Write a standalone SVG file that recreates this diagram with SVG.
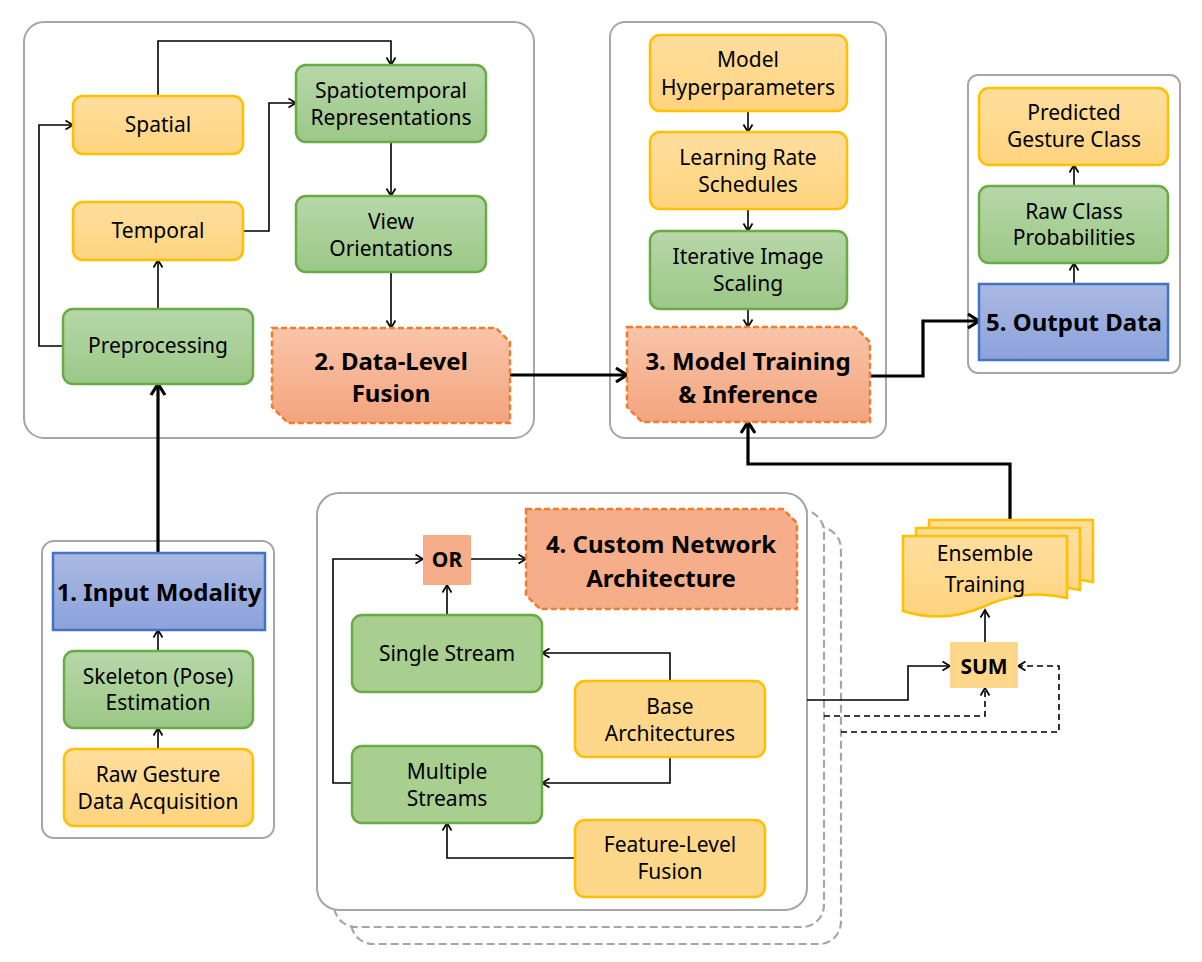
<svg xmlns="http://www.w3.org/2000/svg" width="1202" height="962" viewBox="0 0 1202 962">
<style>
  .cont { fill: #FFFFFF; stroke: #A6A6A6; stroke-width: 2; }
  .contd { fill: #FFFFFF; stroke: #A6A6A6; stroke-width: 2.2; stroke-dasharray: 8 4; }
  .yel { fill: url(#gY); stroke: #FFC000; stroke-width: 2.5; }
  .yelf { fill: #FDD78A; stroke: #FFC000; stroke-width: 2.5; }
  .grn { fill: url(#gG); stroke: #6AAB46; stroke-width: 2.5; }
  .grnf { fill: #A8CF90; stroke: #6AAB46; stroke-width: 2.5; }
  .blu { fill: url(#gB); stroke: #4472C4; stroke-width: 2.5; }
  .org { fill: url(#gO); stroke: #ED7D31; stroke-width: 2.5; stroke-dasharray: 6 3; }
  .orgf { fill: #F5AD8A; stroke: #ED7D31; stroke-width: 2.5; stroke-dasharray: 6 3; }
  .doc { fill: url(#gY); stroke: #FFC000; stroke-width: 2.5; }
  .t { font-family: "Noto Sans", "Liberation Sans", sans-serif; font-size: 21px; fill: #000; text-anchor: middle; }
  .tb { font-family: "Noto Sans", "Liberation Sans", sans-serif; font-size: 24px; font-weight: bold; fill: #000; text-anchor: middle; }
  .ts { font-family: "Noto Sans", "Liberation Sans", sans-serif; font-size: 21px; font-weight: bold; fill: #000; text-anchor: middle; }
  .ln { fill: none; stroke: #000; stroke-width: 1.6; }
  .lnd { fill: none; stroke: #000; stroke-width: 1.6; stroke-dasharray: 6 4; }
  .lnt { fill: none; stroke: #000; stroke-width: 3.2; }
</style>
<defs>
  <linearGradient id="gY" x1="0" y1="0" x2="0" y2="1"><stop offset="0" stop-color="#FFDE9E"/><stop offset="1" stop-color="#FFD47F"/></linearGradient>
  <linearGradient id="gG" x1="0" y1="0" x2="0" y2="1"><stop offset="0" stop-color="#B7D7A9"/><stop offset="1" stop-color="#9CC887"/></linearGradient>
  <linearGradient id="gB" x1="0" y1="0" x2="0" y2="1"><stop offset="0" stop-color="#AAB9E2"/><stop offset="1" stop-color="#8CA2DA"/></linearGradient>
  <linearGradient id="gO" x1="0" y1="0" x2="0" y2="1"><stop offset="0" stop-color="#F8C5A8"/><stop offset="1" stop-color="#F4A47F"/></linearGradient>
  <marker id="a" markerUnits="userSpaceOnUse" markerWidth="12" markerHeight="12" refX="9" refY="6" orient="auto">
    <path d="M1.5,1.5 L9,6 L1.5,10.5" fill="none" stroke="#000" stroke-width="1.7"/>
  </marker>
  <marker id="A" markerUnits="userSpaceOnUse" markerWidth="18" markerHeight="18" refX="14" refY="9" orient="auto">
    <path d="M3,2 L14,9 L3,16" fill="none" stroke="#000" stroke-width="3.2"/>
  </marker>
</defs>

<!-- containers -->
<g id="container-data-fusion"><rect class="cont" x="24" y="22" width="510" height="416" rx="20"/></g>
<g id="container-model-training"><rect class="cont" x="610" y="22" width="276" height="416" rx="15"/></g>
<g id="container-output"><rect class="cont" x="968" y="75" width="212" height="298" rx="10"/></g>
<g id="container-input"><rect class="cont" x="42" y="541" width="232" height="297" rx="12"/></g>
<g id="container-custom-network">
  <rect class="contd" x="351" y="527" width="490" height="417" rx="22"/>
  <rect class="contd" x="334" y="510" width="490" height="417" rx="22"/>
  <rect class="cont" x="317" y="493" width="490" height="417" rx="22"/>
</g>

<!-- connectors -->
<g id="connectors">
  <path class="ln" d="M158,96 V41 H391 V65" marker-end="url(#a)"/>
  <path class="ln" d="M243,231 H269 V103 H296" marker-end="url(#a)"/>
  <path class="ln" d="M63,346 H39 V125 H73" marker-end="url(#a)"/>
  <path class="ln" d="M158,309 V260" marker-end="url(#a)"/>
  <path class="ln" d="M391,142 V196" marker-end="url(#a)"/>
  <path class="ln" d="M391,272 V328" marker-end="url(#a)"/>
  <path class="ln" d="M748,111 V132" marker-end="url(#a)"/>
  <path class="ln" d="M748,209 V231" marker-end="url(#a)"/>
  <path class="ln" d="M748,309 V327" marker-end="url(#a)"/>
  <path class="ln" d="M1074,284 V263" marker-end="url(#a)"/>
  <path class="ln" d="M1074,186 V165" marker-end="url(#a)"/>
  <path class="ln" d="M158,651 V630" marker-end="url(#a)"/>
  <path class="ln" d="M158,749 V728" marker-end="url(#a)"/>
  <path class="ln" d="M352,783 H333 V559 H423" marker-end="url(#a)"/>
  <path class="ln" d="M471,559 H526" marker-end="url(#a)"/>
  <path class="ln" d="M447,615 V585" marker-end="url(#a)"/>
  <path class="ln" d="M670,681 V653 H542" marker-end="url(#a)"/>
  <path class="ln" d="M670,757 V783 H542" marker-end="url(#a)"/>
  <path class="ln" d="M575,858 H447 V823" marker-end="url(#a)"/>
  <path class="ln" d="M807,700 H908 V666 H950" marker-end="url(#a)"/>
  <path class="ln" d="M985,642 V610" marker-end="url(#a)"/>
  <path class="lnd" d="M824,716 H985 V688" marker-end="url(#a)"/>
  <path class="lnd" d="M841,732 H1059 V666 H1018" marker-end="url(#a)"/>
  <path class="lnt" d="M158,553 V384" marker-end="url(#A)"/>
  <path class="lnt" d="M510,375 H627" marker-end="url(#A)"/>
  <path class="lnt" d="M870,376 H923 V321 H979" marker-end="url(#A)"/>
  <path class="lnt" d="M1010,520 V464 H748 V422" marker-end="url(#A)"/>
</g>

<!-- container 2 nodes -->
<g id="spatial"><rect class="yel" x="73" y="96" width="170" height="58" rx="10"/><text class="t" x="158" y="132">Spatial</text></g>
<g id="temporal"><rect class="yel" x="73" y="202" width="170" height="58" rx="10"/><text class="t" x="158" y="238">Temporal</text></g>
<g id="preprocessing"><rect class="grn" x="63" y="309" width="190" height="75" rx="10"/><text class="t" x="158" y="353">Preprocessing</text></g>
<g id="spatiotemporal"><rect class="grn" x="296" y="65" width="190" height="77" rx="10"/><text class="t" x="391" y="98">Spatiotemporal</text><text class="t" x="391" y="125">Representations</text></g>
<g id="view-orientations"><rect class="grn" x="296" y="196" width="190" height="76" rx="10"/><text class="t" x="391" y="229">View</text><text class="t" x="391" y="256">Orientations</text></g>
<g id="data-level-fusion"><path class="org" d="M272,328 H496 L510,342 V423 H288 L272,407 Z"/><text class="tb" x="391" y="370">2. Data-Level</text><text class="tb" x="391" y="402">Fusion</text></g>

<!-- container 3 nodes -->
<g id="model-hyperparameters"><rect class="yel" x="650" y="35" width="197" height="76" rx="10"/><text class="t" x="748" y="67">Model</text><text class="t" x="748" y="95">Hyperparameters</text></g>
<g id="learning-rate"><rect class="yel" x="650" y="132" width="197" height="77" rx="10"/><text class="t" x="748" y="165">Learning Rate</text><text class="t" x="748" y="192">Schedules</text></g>
<g id="iterative-scaling"><rect class="grn" x="650" y="231" width="197" height="78" rx="10"/><text class="t" x="748" y="264">Iterative Image</text><text class="t" x="748" y="291">Scaling</text></g>
<g id="model-training"><path class="org" d="M627,327 H855 L870,342 V422 H642 L627,407 Z"/><text class="tb" x="748" y="370">3. Model Training</text><text class="tb" x="748" y="403">&amp; Inference</text></g>

<!-- container 5 nodes -->
<g id="predicted-class"><rect class="yel" x="979" y="88" width="189" height="77" rx="10"/><text class="t" x="1074" y="120">Predicted</text><text class="t" x="1074" y="147">Gesture Class</text></g>
<g id="raw-probabilities"><rect class="grn" x="979" y="186" width="189" height="77" rx="10"/><text class="t" x="1074" y="219">Raw Class</text><text class="t" x="1074" y="245">Probabilities</text></g>
<g id="output-data"><rect class="blu" x="979" y="284" width="189" height="76"/><text class="tb" x="1074" y="331">5. Output Data</text></g>

<!-- input container nodes -->
<g id="input-modality"><rect class="blu" x="53" y="553" width="212" height="77"/><text class="tb" x="159" y="601">1. Input Modality</text></g>
<g id="skeleton"><rect class="grn" x="64" y="651" width="189" height="77" rx="10"/><text class="t" x="158" y="684">Skeleton (Pose)</text><text class="t" x="158" y="710">Estimation</text></g>
<g id="raw-gesture"><rect class="yel" x="64" y="749" width="189" height="77" rx="10"/><text class="t" x="158" y="782">Raw Gesture</text><text class="t" x="158" y="809">Data Acquisition</text></g>

<!-- container 4 nodes -->
<g id="or"><rect x="423" y="535" width="48" height="50" fill="#F5AD8A"/><text class="ts" x="447" y="567">OR</text></g>
<g id="custom-network"><path class="orgf" d="M526,509 H783 L797,523 V609 H540 L526,595 Z"/><text class="tb" x="661" y="553">4. Custom Network</text><text class="tb" x="661" y="587">Architecture</text></g>
<g id="single-stream"><rect class="grnf" x="352" y="615" width="190" height="77" rx="10"/><text class="t" x="447" y="661">Single Stream</text></g>
<g id="multiple-streams"><rect class="grnf" x="352" y="746" width="190" height="77" rx="10"/><text class="t" x="447" y="779">Multiple</text><text class="t" x="447" y="806">Streams</text></g>
<g id="base-architectures"><rect class="yelf" x="575" y="681" width="190" height="76" rx="10"/><text class="t" x="670" y="714">Base</text><text class="t" x="670" y="741">Architectures</text></g>
<g id="feature-level-fusion"><rect class="yelf" x="575" y="820" width="190" height="77" rx="10"/><text class="t" x="670" y="852">Feature-Level</text><text class="t" x="670" y="879">Fusion</text></g>

<!-- ensemble -->
<g id="ensemble-training">
  <path class="doc" d="M929,520 H1093 V582 Q1052,572 1011,590 T929,595 Z"/>
  <path class="doc" d="M916,528 H1080 V590 Q1039,580 998,598 T916,603 Z"/>
  <path class="doc" d="M903,536 H1067 V598 Q1026,588 985,606 T903,611 Z"/>
  <text class="t" x="985" y="561">Ensemble</text><text class="t" x="985" y="592">Training</text>
</g>
<g id="sum"><rect x="950" y="642" width="68" height="46" fill="#FDD78A"/><text class="ts" x="984" y="674">SUM</text></g>
</svg>
